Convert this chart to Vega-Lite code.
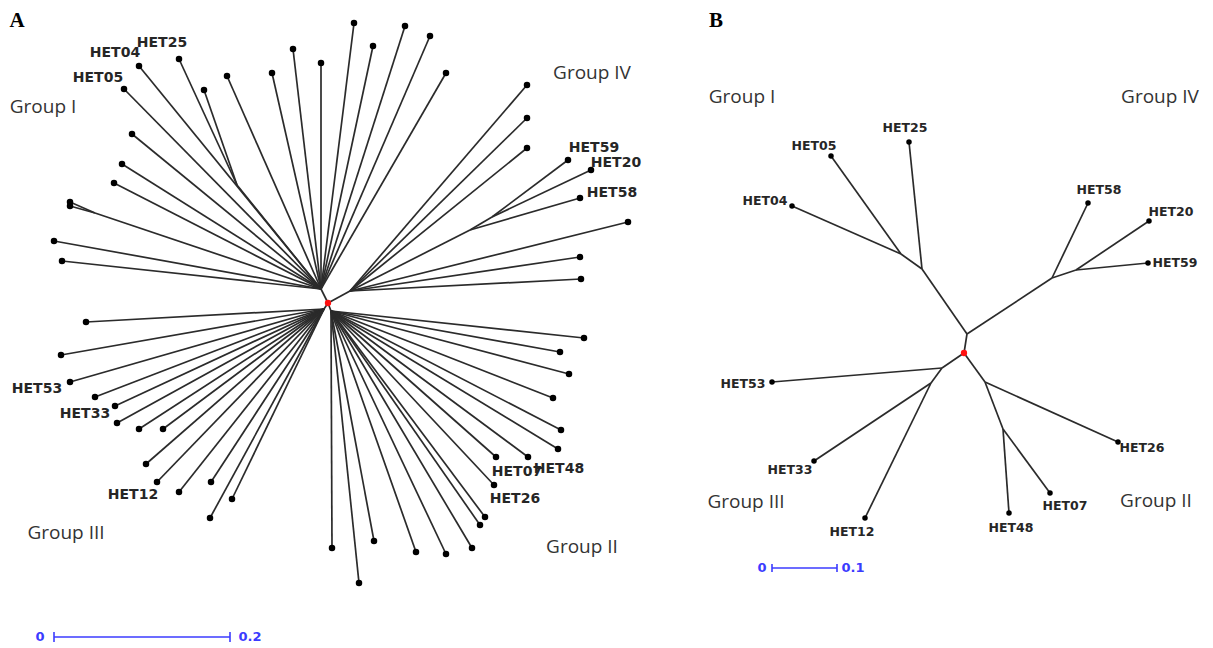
{
  "$schema": "https://vega.github.io/schema/vega-lite/v6.json",
  "width": 1213,
  "height": 648,
  "autosize": {"type": "fit", "contains": "padding"},
  "padding": 0,
  "background": "white",
  "config": {"view": {"stroke": null}},
  "datasets": {
    "edges": [
      {"tree": "A", "x": 328, "y": 303, "x2": 321, "y2": 289},
      {"tree": "A", "x": 328, "y": 303, "x2": 350, "y2": 291},
      {"tree": "A", "x": 328, "y": 303, "x2": 324, "y2": 309},
      {"tree": "A", "x": 328, "y": 303, "x2": 331, "y2": 311},
      {"tree": "A", "x": 321, "y": 289, "x2": 293, "y2": 49},
      {"tree": "A", "x": 321, "y": 289, "x2": 321, "y2": 63},
      {"tree": "A", "x": 321, "y": 289, "x2": 272, "y2": 73},
      {"tree": "A", "x": 321, "y": 289, "x2": 227, "y2": 76},
      {"tree": "A", "x": 321, "y": 289, "x2": 237, "y2": 185},
      {"tree": "A", "x": 237, "y": 185, "x2": 204, "y2": 90},
      {"tree": "A", "x": 237, "y": 185, "x2": 179, "y2": 59},
      {"tree": "A", "x": 321, "y": 289, "x2": 139, "y2": 66},
      {"tree": "A", "x": 321, "y": 289, "x2": 124, "y2": 89},
      {"tree": "A", "x": 321, "y": 289, "x2": 132, "y2": 134},
      {"tree": "A", "x": 321, "y": 289, "x2": 122, "y2": 164},
      {"tree": "A", "x": 321, "y": 289, "x2": 114, "y2": 183},
      {"tree": "A", "x": 321, "y": 289, "x2": 95, "y2": 213},
      {"tree": "A", "x": 95, "y": 213, "x2": 70, "y2": 202},
      {"tree": "A", "x": 95, "y": 213, "x2": 70, "y2": 206},
      {"tree": "A", "x": 321, "y": 289, "x2": 54, "y2": 241},
      {"tree": "A", "x": 321, "y": 289, "x2": 62, "y2": 261},
      {"tree": "A", "x": 321, "y": 289, "x2": 354, "y2": 23},
      {"tree": "A", "x": 321, "y": 289, "x2": 373, "y2": 46},
      {"tree": "A", "x": 321, "y": 289, "x2": 405, "y2": 26},
      {"tree": "A", "x": 321, "y": 289, "x2": 430, "y2": 36},
      {"tree": "A", "x": 321, "y": 289, "x2": 446, "y2": 73},
      {"tree": "A", "x": 350, "y": 291, "x2": 527, "y2": 85},
      {"tree": "A", "x": 350, "y": 291, "x2": 527, "y2": 118},
      {"tree": "A", "x": 350, "y": 291, "x2": 527, "y2": 148},
      {"tree": "A", "x": 350, "y": 291, "x2": 628, "y2": 222},
      {"tree": "A", "x": 350, "y": 291, "x2": 580, "y2": 257},
      {"tree": "A", "x": 350, "y": 291, "x2": 581, "y2": 279},
      {"tree": "A", "x": 350, "y": 291, "x2": 470, "y2": 230},
      {"tree": "A", "x": 470, "y": 230, "x2": 580, "y2": 198},
      {"tree": "A", "x": 470, "y": 230, "x2": 492, "y2": 217},
      {"tree": "A", "x": 492, "y": 217, "x2": 568, "y2": 160},
      {"tree": "A", "x": 492, "y": 217, "x2": 591, "y2": 170},
      {"tree": "A", "x": 324, "y": 309, "x2": 86, "y2": 322},
      {"tree": "A", "x": 324, "y": 309, "x2": 61, "y2": 355},
      {"tree": "A", "x": 324, "y": 309, "x2": 70, "y2": 382},
      {"tree": "A", "x": 324, "y": 309, "x2": 95, "y2": 397},
      {"tree": "A", "x": 324, "y": 309, "x2": 115, "y2": 406},
      {"tree": "A", "x": 324, "y": 309, "x2": 117, "y2": 423},
      {"tree": "A", "x": 324, "y": 309, "x2": 139, "y2": 429},
      {"tree": "A", "x": 324, "y": 309, "x2": 163, "y2": 429},
      {"tree": "A", "x": 324, "y": 309, "x2": 146, "y2": 464},
      {"tree": "A", "x": 324, "y": 309, "x2": 157, "y2": 482},
      {"tree": "A", "x": 324, "y": 309, "x2": 179, "y2": 492},
      {"tree": "A", "x": 324, "y": 309, "x2": 211, "y2": 482},
      {"tree": "A", "x": 324, "y": 309, "x2": 232, "y2": 499},
      {"tree": "A", "x": 324, "y": 309, "x2": 210, "y2": 518},
      {"tree": "A", "x": 331, "y": 311, "x2": 332, "y2": 548},
      {"tree": "A", "x": 331, "y": 311, "x2": 584, "y2": 338},
      {"tree": "A", "x": 331, "y": 311, "x2": 560, "y2": 352},
      {"tree": "A", "x": 331, "y": 311, "x2": 569, "y2": 374},
      {"tree": "A", "x": 331, "y": 311, "x2": 553, "y2": 398},
      {"tree": "A", "x": 331, "y": 311, "x2": 561, "y2": 430},
      {"tree": "A", "x": 331, "y": 311, "x2": 558, "y2": 449},
      {"tree": "A", "x": 331, "y": 311, "x2": 496, "y2": 457},
      {"tree": "A", "x": 331, "y": 311, "x2": 528, "y2": 457},
      {"tree": "A", "x": 331, "y": 311, "x2": 494, "y2": 485},
      {"tree": "A", "x": 331, "y": 311, "x2": 485, "y2": 517},
      {"tree": "A", "x": 331, "y": 311, "x2": 480, "y2": 525},
      {"tree": "A", "x": 331, "y": 311, "x2": 472, "y2": 548},
      {"tree": "A", "x": 331, "y": 311, "x2": 446, "y2": 554},
      {"tree": "A", "x": 331, "y": 311, "x2": 416, "y2": 552},
      {"tree": "A", "x": 331, "y": 311, "x2": 374, "y2": 541},
      {"tree": "A", "x": 331, "y": 311, "x2": 359, "y2": 583},
      {"tree": "B", "x": 964, "y": 353, "x2": 967, "y2": 334},
      {"tree": "B", "x": 967, "y": 334, "x2": 922, "y2": 269},
      {"tree": "B", "x": 967, "y": 334, "x2": 1052, "y2": 278},
      {"tree": "B", "x": 922, "y": 269, "x2": 909, "y2": 142},
      {"tree": "B", "x": 922, "y": 269, "x2": 901, "y2": 254},
      {"tree": "B", "x": 901, "y": 254, "x2": 792, "y2": 206},
      {"tree": "B", "x": 901, "y": 254, "x2": 831, "y2": 156},
      {"tree": "B", "x": 1052, "y": 278, "x2": 1088, "y2": 203},
      {"tree": "B", "x": 1052, "y": 278, "x2": 1076, "y2": 270},
      {"tree": "B", "x": 1076, "y": 270, "x2": 1149, "y2": 221},
      {"tree": "B", "x": 1076, "y": 270, "x2": 1148, "y2": 263},
      {"tree": "B", "x": 964, "y": 353, "x2": 942, "y2": 368},
      {"tree": "B", "x": 942, "y": 368, "x2": 772, "y2": 382},
      {"tree": "B", "x": 942, "y": 368, "x2": 931, "y2": 383},
      {"tree": "B", "x": 931, "y": 383, "x2": 814, "y2": 461},
      {"tree": "B", "x": 931, "y": 383, "x2": 865, "y2": 518},
      {"tree": "B", "x": 964, "y": 353, "x2": 985, "y2": 382},
      {"tree": "B", "x": 985, "y": 382, "x2": 1118, "y2": 442},
      {"tree": "B", "x": 985, "y": 382, "x2": 1003, "y2": 429},
      {"tree": "B", "x": 1003, "y": 429, "x2": 1009, "y2": 513},
      {"tree": "B", "x": 1003, "y": 429, "x2": 1050, "y2": 493}
    ],
    "tips": [
      {"tree": "A", "x": 293, "y": 49}, {"tree": "A", "x": 321, "y": 63}, {"tree": "A", "x": 272, "y": 73},
      {"tree": "A", "x": 227, "y": 76}, {"tree": "A", "x": 204, "y": 90}, {"tree": "A", "x": 179, "y": 59},
      {"tree": "A", "x": 139, "y": 66}, {"tree": "A", "x": 124, "y": 89}, {"tree": "A", "x": 132, "y": 134},
      {"tree": "A", "x": 122, "y": 164}, {"tree": "A", "x": 114, "y": 183}, {"tree": "A", "x": 70, "y": 202},
      {"tree": "A", "x": 70, "y": 206}, {"tree": "A", "x": 54, "y": 241}, {"tree": "A", "x": 62, "y": 261},
      {"tree": "A", "x": 354, "y": 23}, {"tree": "A", "x": 373, "y": 46}, {"tree": "A", "x": 405, "y": 26},
      {"tree": "A", "x": 430, "y": 36}, {"tree": "A", "x": 446, "y": 73}, {"tree": "A", "x": 527, "y": 85},
      {"tree": "A", "x": 527, "y": 118}, {"tree": "A", "x": 527, "y": 148}, {"tree": "A", "x": 628, "y": 222},
      {"tree": "A", "x": 580, "y": 257}, {"tree": "A", "x": 581, "y": 279}, {"tree": "A", "x": 580, "y": 198},
      {"tree": "A", "x": 568, "y": 160}, {"tree": "A", "x": 591, "y": 170},
      {"tree": "A", "x": 86, "y": 322}, {"tree": "A", "x": 61, "y": 355}, {"tree": "A", "x": 70, "y": 382},
      {"tree": "A", "x": 95, "y": 397}, {"tree": "A", "x": 115, "y": 406}, {"tree": "A", "x": 117, "y": 423},
      {"tree": "A", "x": 139, "y": 429}, {"tree": "A", "x": 163, "y": 429}, {"tree": "A", "x": 146, "y": 464},
      {"tree": "A", "x": 157, "y": 482}, {"tree": "A", "x": 179, "y": 492}, {"tree": "A", "x": 211, "y": 482},
      {"tree": "A", "x": 232, "y": 499}, {"tree": "A", "x": 210, "y": 518},
      {"tree": "A", "x": 332, "y": 548}, {"tree": "A", "x": 584, "y": 338}, {"tree": "A", "x": 560, "y": 352},
      {"tree": "A", "x": 569, "y": 374}, {"tree": "A", "x": 553, "y": 398}, {"tree": "A", "x": 561, "y": 430},
      {"tree": "A", "x": 558, "y": 449}, {"tree": "A", "x": 496, "y": 457}, {"tree": "A", "x": 528, "y": 457},
      {"tree": "A", "x": 494, "y": 485}, {"tree": "A", "x": 485, "y": 517}, {"tree": "A", "x": 480, "y": 525},
      {"tree": "A", "x": 472, "y": 548}, {"tree": "A", "x": 446, "y": 554}, {"tree": "A", "x": 416, "y": 552},
      {"tree": "A", "x": 374, "y": 541}, {"tree": "A", "x": 359, "y": 583},
      {"tree": "B", "x": 909, "y": 142}, {"tree": "B", "x": 792, "y": 206}, {"tree": "B", "x": 831, "y": 156},
      {"tree": "B", "x": 1088, "y": 203}, {"tree": "B", "x": 1149, "y": 221}, {"tree": "B", "x": 1148, "y": 263},
      {"tree": "B", "x": 772, "y": 382}, {"tree": "B", "x": 814, "y": 461}, {"tree": "B", "x": 865, "y": 518},
      {"tree": "B", "x": 1118, "y": 442}, {"tree": "B", "x": 1009, "y": 513}, {"tree": "B", "x": 1050, "y": 493}
    ],
    "roots": [
      {"tree": "A", "x": 328, "y": 303},
      {"tree": "B", "x": 964, "y": 353}
    ],
    "bars": [
      {"x": 54, "y": 637, "x2": 230, "y2": 637},
      {"x": 54, "y": 632, "x2": 54, "y2": 642},
      {"x": 230, "y": 632, "x2": 230, "y2": 642},
      {"x": 772, "y": 568, "x2": 837, "y2": 568},
      {"x": 772, "y": 564, "x2": 772, "y2": 572},
      {"x": 837, "y": 564, "x2": 837, "y2": 572}
    ],
    "barlabels": [
      {"text": "0", "x": 40, "y": 637},
      {"text": "0.2", "x": 250, "y": 637},
      {"text": "0", "x": 762, "y": 568},
      {"text": "0.1", "x": 853, "y": 568}
    ],
    "leaflabels": [
      {"panel": "A", "text": "HET25", "x": 162, "y": 43},
      {"panel": "A", "text": "HET04", "x": 115, "y": 53},
      {"panel": "A", "text": "HET05", "x": 98, "y": 78},
      {"panel": "A", "text": "HET59", "x": 594, "y": 148},
      {"panel": "A", "text": "HET20", "x": 616, "y": 163},
      {"panel": "A", "text": "HET58", "x": 612, "y": 193},
      {"panel": "A", "text": "HET53", "x": 37, "y": 389},
      {"panel": "A", "text": "HET33", "x": 85, "y": 414},
      {"panel": "A", "text": "HET12", "x": 133, "y": 495},
      {"panel": "A", "text": "HET07", "x": 517, "y": 472},
      {"panel": "A", "text": "HET48", "x": 559, "y": 469},
      {"panel": "A", "text": "HET26", "x": 515, "y": 499},
      {"panel": "B", "text": "HET25", "x": 905, "y": 128},
      {"panel": "B", "text": "HET05", "x": 814, "y": 146},
      {"panel": "B", "text": "HET04", "x": 765, "y": 201},
      {"panel": "B", "text": "HET58", "x": 1099, "y": 190},
      {"panel": "B", "text": "HET20", "x": 1171, "y": 212},
      {"panel": "B", "text": "HET59", "x": 1175, "y": 263},
      {"panel": "B", "text": "HET53", "x": 743, "y": 384},
      {"panel": "B", "text": "HET33", "x": 790, "y": 470},
      {"panel": "B", "text": "HET12", "x": 852, "y": 532},
      {"panel": "B", "text": "HET48", "x": 1011, "y": 528},
      {"panel": "B", "text": "HET07", "x": 1065, "y": 506},
      {"panel": "B", "text": "HET26", "x": 1142, "y": 448}
    ],
    "grouplabels": [
      {"text": "Group I", "x": 43, "y": 107},
      {"text": "Group IV", "x": 592, "y": 73},
      {"text": "Group III", "x": 66, "y": 533},
      {"text": "Group II", "x": 582, "y": 547},
      {"text": "Group I", "x": 742, "y": 97},
      {"text": "Group IV", "x": 1160, "y": 97},
      {"text": "Group III", "x": 746, "y": 502},
      {"text": "Group II", "x": 1156, "y": 501}
    ],
    "panels": [
      {"text": "A", "x": 17, "y": 21},
      {"text": "B", "x": 716, "y": 21}
    ]
  },
  "layer": [
    {
      "data": {"name": "edges"},
      "mark": {"type": "rule", "color": "#2b2b2b", "strokeWidth": 1.7},
      "encoding": {
        "x": {"field": "x", "type": "quantitative", "scale": {"domain": [0, 1213], "nice": false, "zero": false}, "axis": null},
        "y": {"field": "y", "type": "quantitative", "scale": {"domain": [0, 648], "nice": false, "zero": false, "reverse": true}, "axis": null},
        "x2": {"field": "x2"},
        "y2": {"field": "y2"}
      }
    },
    {
      "data": {"name": "bars"},
      "mark": {"type": "rule", "color": "#3b3bff", "strokeWidth": 1.6},
      "encoding": {
        "x": {"field": "x", "type": "quantitative", "scale": {"domain": [0, 1213], "nice": false, "zero": false}, "axis": null},
        "y": {"field": "y", "type": "quantitative", "scale": {"domain": [0, 648], "nice": false, "zero": false, "reverse": true}, "axis": null},
        "x2": {"field": "x2"},
        "y2": {"field": "y2"}
      }
    },
    {
      "data": {"name": "tips"},
      "transform": [{"filter": "datum.tree === 'A'"}],
      "mark": {"type": "circle", "color": "#000000", "size": 42, "opacity": 1},
      "encoding": {
        "x": {"field": "x", "type": "quantitative", "scale": {"domain": [0, 1213], "nice": false, "zero": false}, "axis": null},
        "y": {"field": "y", "type": "quantitative", "scale": {"domain": [0, 648], "nice": false, "zero": false, "reverse": true}, "axis": null}
      }
    },
    {
      "data": {"name": "tips"},
      "transform": [{"filter": "datum.tree === 'B'"}],
      "mark": {"type": "circle", "color": "#000000", "size": 30, "opacity": 1},
      "encoding": {
        "x": {"field": "x", "type": "quantitative", "scale": {"domain": [0, 1213], "nice": false, "zero": false}, "axis": null},
        "y": {"field": "y", "type": "quantitative", "scale": {"domain": [0, 648], "nice": false, "zero": false, "reverse": true}, "axis": null}
      }
    },
    {
      "data": {"name": "roots"},
      "mark": {"type": "circle", "color": "#ff1010", "size": 40, "opacity": 1},
      "encoding": {
        "x": {"field": "x", "type": "quantitative", "scale": {"domain": [0, 1213], "nice": false, "zero": false}, "axis": null},
        "y": {"field": "y", "type": "quantitative", "scale": {"domain": [0, 648], "nice": false, "zero": false, "reverse": true}, "axis": null}
      }
    },
    {
      "data": {"name": "leaflabels"},
      "transform": [{"filter": "datum.panel === 'A'"}],
      "mark": {"type": "text", "font": "DejaVu Sans", "fontSize": 14, "fontWeight": "bold", "color": "#262626", "align": "center", "baseline": "middle"},
      "encoding": {
        "x": {"field": "x", "type": "quantitative", "scale": {"domain": [0, 1213], "nice": false, "zero": false}, "axis": null},
        "y": {"field": "y", "type": "quantitative", "scale": {"domain": [0, 648], "nice": false, "zero": false, "reverse": true}, "axis": null},
        "text": {"field": "text"}
      }
    },
    {
      "data": {"name": "leaflabels"},
      "transform": [{"filter": "datum.panel === 'B'"}],
      "mark": {"type": "text", "font": "DejaVu Sans", "fontSize": 12.5, "fontWeight": "bold", "color": "#262626", "align": "center", "baseline": "middle"},
      "encoding": {
        "x": {"field": "x", "type": "quantitative", "scale": {"domain": [0, 1213], "nice": false, "zero": false}, "axis": null},
        "y": {"field": "y", "type": "quantitative", "scale": {"domain": [0, 648], "nice": false, "zero": false, "reverse": true}, "axis": null},
        "text": {"field": "text"}
      }
    },
    {
      "data": {"name": "grouplabels"},
      "mark": {"type": "text", "font": "Open Sans", "fontSize": 19, "color": "#333333", "align": "center", "baseline": "middle"},
      "encoding": {
        "x": {"field": "x", "type": "quantitative", "scale": {"domain": [0, 1213], "nice": false, "zero": false}, "axis": null},
        "y": {"field": "y", "type": "quantitative", "scale": {"domain": [0, 648], "nice": false, "zero": false, "reverse": true}, "axis": null},
        "text": {"field": "text"}
      }
    },
    {
      "data": {"name": "barlabels"},
      "mark": {"type": "text", "font": "DejaVu Sans", "fontSize": 13, "fontWeight": "bold", "color": "#3b3bff", "align": "center", "baseline": "middle"},
      "encoding": {
        "x": {"field": "x", "type": "quantitative", "scale": {"domain": [0, 1213], "nice": false, "zero": false}, "axis": null},
        "y": {"field": "y", "type": "quantitative", "scale": {"domain": [0, 648], "nice": false, "zero": false, "reverse": true}, "axis": null},
        "text": {"field": "text"}
      }
    },
    {
      "data": {"name": "panels"},
      "mark": {"type": "text", "font": "Liberation Serif", "fontSize": 21, "fontWeight": "bold", "color": "#000000", "align": "center", "baseline": "middle"},
      "encoding": {
        "x": {"field": "x", "type": "quantitative", "scale": {"domain": [0, 1213], "nice": false, "zero": false}, "axis": null},
        "y": {"field": "y", "type": "quantitative", "scale": {"domain": [0, 648], "nice": false, "zero": false, "reverse": true}, "axis": null},
        "text": {"field": "text"}
      }
    }
  ]
}
